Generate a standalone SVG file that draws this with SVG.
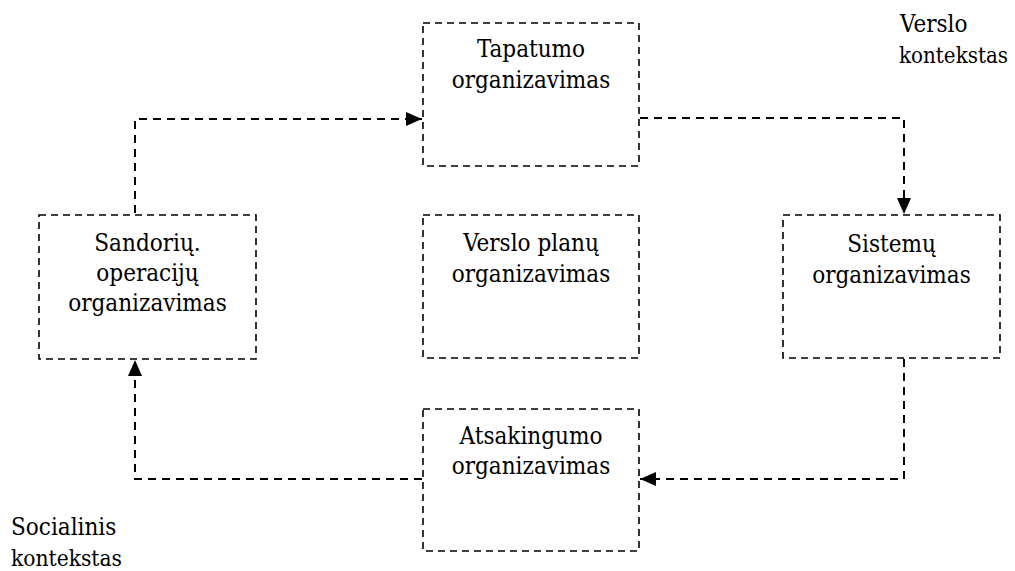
<svg xmlns="http://www.w3.org/2000/svg" width="1015" height="571" viewBox="0 0 1015 571">
  <style>
    .box { fill: none; stroke: #000; stroke-width: 1.6; stroke-dasharray: 7 5; }
    .link { fill: none; stroke: #000; stroke-width: 2; stroke-dasharray: 8 6; }
    .t { font-family: "DejaVu Serif Condensed", "DejaVu Serif", serif; font-size: 24px; fill: #000; }
    .c { text-anchor: middle; }
    .k { font-size: 22.5px; }
  </style>
  <defs>
    <marker id="arrow" viewBox="0 0 16 14" refX="16" refY="7" markerWidth="16" markerHeight="14" markerUnits="userSpaceOnUse" orient="auto">
      <path d="M0,0 L16,7 L0,14 Z" fill="#000"/>
    </marker>
  </defs>

  <!-- connectors -->
  <g id="connectors">
    <path class="link" d="M135,213 V119 H422" marker-end="url(#arrow)"/>
    <path class="link" d="M640,118 H904 V214" marker-end="url(#arrow)"/>
    <path class="link" d="M904,359 V479 H640" marker-end="url(#arrow)"/>
    <path class="link" d="M422,479 H135 V360" marker-end="url(#arrow)"/>
  </g>

  <g id="tapatumo">
    <rect class="box" x="423" y="23" width="216" height="143"/>
    <text class="t c" x="531" y="57">Tapatumo</text>
    <text class="t c" x="531" y="88">organizavimas</text>
  </g>

  <g id="sandoriu">
    <rect class="box" x="39" y="215" width="217" height="144"/>
    <text class="t c" x="147.5" y="251">Sandorių.</text>
    <text class="t c" x="147.5" y="281">operacijų</text>
    <text class="t c" x="147.5" y="311">organizavimas</text>
  </g>

  <g id="verslo-planu">
    <rect class="box" x="423" y="215" width="216" height="143"/>
    <text class="t c" x="531" y="251">Verslo planų</text>
    <text class="t c" x="531" y="282">organizavimas</text>
  </g>

  <g id="sistemu">
    <rect class="box" x="783" y="215" width="217" height="143"/>
    <text class="t c" x="891.5" y="252">Sistemų</text>
    <text class="t c" x="891.5" y="283">organizavimas</text>
  </g>

  <g id="atsakingumo">
    <rect class="box" x="423" y="409" width="216" height="142"/>
    <text class="t c" x="531" y="444">Atsakingumo</text>
    <text class="t c" x="531" y="474">organizavimas</text>
  </g>

  <g id="verslo-kontekstas">
    <text class="t" x="900" y="32">Verslo</text>
    <text class="t k" x="899" y="63" textLength="109" lengthAdjust="spacingAndGlyphs">kontekstas</text>
  </g>

  <g id="socialinis-kontekstas">
    <text class="t" x="11" y="535">Socialinis</text>
    <text class="t k" x="11" y="566" textLength="111" lengthAdjust="spacingAndGlyphs">kontekstas</text>
  </g>
</svg>
